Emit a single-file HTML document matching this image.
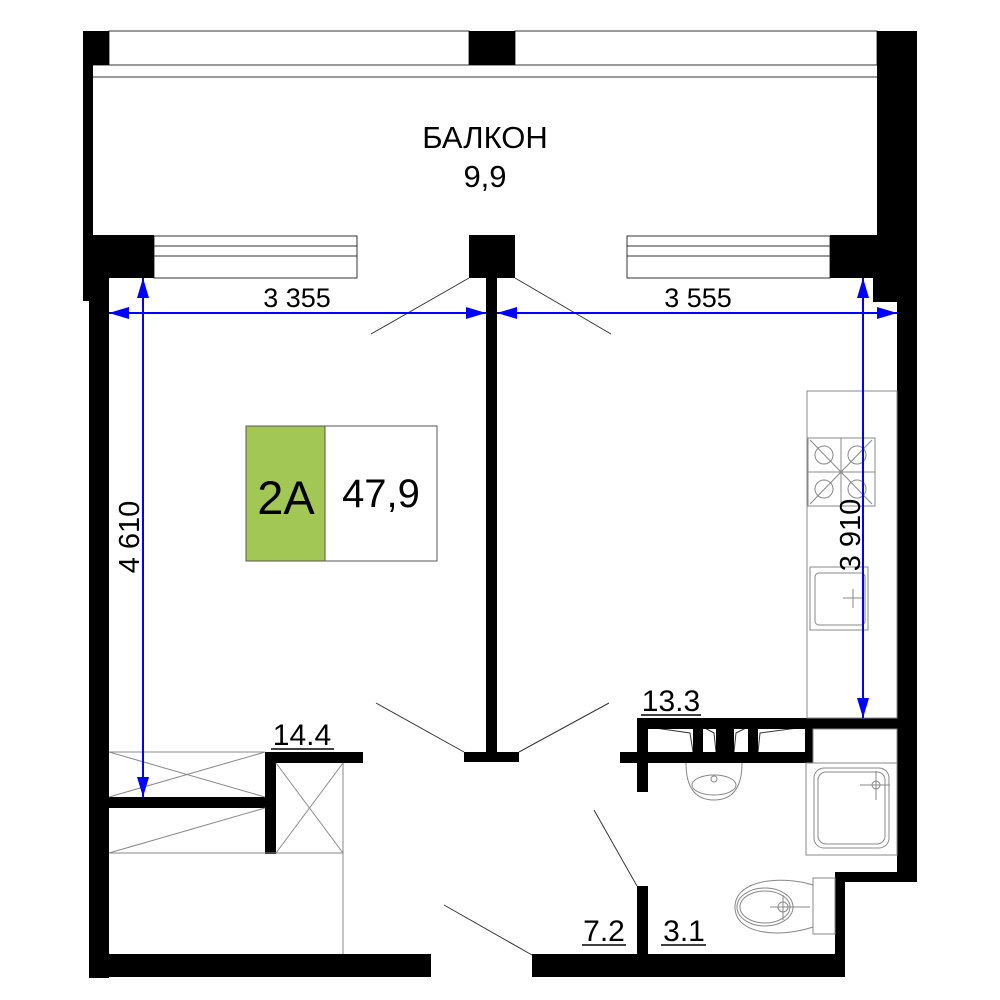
<!DOCTYPE html><html><head><style>body{margin:0;background:#fff}svg{display:block}text{font-family:"Liberation Sans",sans-serif}</style></head><body>
<svg width="1000" height="1000" viewBox="0 0 1000 1000" xmlns="http://www.w3.org/2000/svg">
<defs><marker id="b" viewBox="0 0 20 12" refX="20" refY="6" markerWidth="20" markerHeight="12" markerUnits="userSpaceOnUse" orient="auto-start-reverse"><path d="M0,0L20,6L0,12z" fill="#00f"/></marker></defs>
<g fill="none" stroke="#333" stroke-width="1">
<rect x="109" y="31" width="360" height="34"/><rect x="515" y="31" width="362" height="34"/>
<line x1="93" y1="65" x2="877" y2="65"/><line x1="93" y1="77" x2="877" y2="77"/>
<rect x="154" y="236" width="203" height="42"/><line x1="154" y1="246" x2="357" y2="246"/><line x1="154" y1="256" x2="357" y2="256"/>
<rect x="627" y="236" width="203" height="42"/><line x1="627" y1="246" x2="830" y2="246"/><line x1="627" y1="256" x2="830" y2="256"/>
<line x1="469" y1="278" x2="371" y2="334"/><line x1="515" y1="278" x2="611" y2="334"/>
<line x1="376" y1="703" x2="464" y2="752"/><line x1="519" y1="752" x2="609" y2="703"/>
<line x1="594" y1="810" x2="637" y2="886"/><line x1="444" y1="905" x2="532" y2="955"/>
<path d="M648,727 L690,733 L693,752 M703,727 L714,733 L716,752 M734,752 L736,733 L748,727 M758,752 L760,733 L805,727"/>
</g>
<g fill="#000">
<rect x="83" y="31" width="26" height="34"/><rect x="83" y="31" width="10" height="270"/>
<rect x="469" y="31" width="46" height="34"/>
<rect x="877" y="31" width="40" height="270"/><rect x="830" y="235" width="87" height="43"/><rect x="873" y="278" width="44" height="24"/>
<rect x="83" y="235" width="71" height="43"/><rect x="89" y="278" width="20" height="700"/>
<rect x="89" y="954" width="342" height="23"/>
<rect x="469" y="235" width="46" height="43"/><rect x="486" y="278" width="11" height="480"/><rect x="464" y="752" width="55" height="10"/>
<rect x="532" y="954" width="313" height="23"/><rect x="835" y="872" width="10" height="105"/><rect x="835" y="872" width="82" height="10"/>
<rect x="897" y="300" width="20" height="582"/><rect x="637" y="886" width="11" height="69"/>
<rect x="637" y="718" width="260" height="11"/><rect x="620" y="752" width="193" height="11"/><rect x="637" y="718" width="11" height="74"/>
<rect x="693" y="718" width="10" height="45"/><rect x="716" y="718" width="18" height="45"/><rect x="748" y="718" width="10" height="45"/><rect x="805" y="718" width="8" height="45"/>
<rect x="109" y="797" width="156" height="11"/><rect x="265" y="752" width="11" height="102"/><rect x="265" y="752" width="98" height="11"/>
</g>
<g fill="none" stroke="#888" stroke-width="1">
<line x1="109" y1="752" x2="265" y2="752"/><line x1="109" y1="752" x2="265" y2="797"/><line x1="109" y1="797" x2="265" y2="752"/><line x1="109" y1="853" x2="265" y2="808"/>
<line x1="109" y1="853" x2="343" y2="853"/><line x1="343" y1="763" x2="343" y2="954"/>
<line x1="276" y1="763" x2="343" y2="853"/><line x1="343" y1="763" x2="276" y2="853"/>
<rect x="807" y="391" width="90" height="327"/>
<rect x="808" y="438" width="67" height="68"/><line x1="841" y1="438" x2="841" y2="506"/><line x1="808" y1="472" x2="875" y2="472"/>
<circle cx="824" cy="455" r="9"/><circle cx="857" cy="455" r="9"/><circle cx="824" cy="489" r="9"/><circle cx="857" cy="489" r="9"/>
<line x1="810" y1="440" x2="872" y2="504"/><line x1="872" y1="440" x2="810" y2="504"/>
<rect x="810" y="567" width="58" height="63"/><rect x="815" y="573" width="50" height="52" rx="4"/>
<line x1="843" y1="598" x2="863" y2="598"/><line x1="853" y1="589" x2="853" y2="608"/>
<rect x="813" y="729" width="84" height="34"/><rect x="806" y="763" width="91" height="92"/>
<rect x="814" y="768" width="75" height="80" rx="10"/><rect x="818" y="772" width="67" height="72" rx="8"/>
<line x1="860" y1="785" x2="890" y2="785"/><line x1="876" y1="771" x2="876" y2="800"/><circle cx="876" cy="785" r="4"/>
<path d="M686,763 Q686,800 714,800 Q742,800 742,763"/><ellipse cx="714" cy="785" rx="22" ry="10"/><circle cx="714" cy="779" r="3"/>
<rect x="813" y="878" width="22" height="56"/><path d="M813,885 C780,875 735,880 735,907 C735,935 780,938 813,927"/><ellipse cx="765" cy="907" rx="28" ry="19"/><ellipse cx="765" cy="907" rx="25" ry="16"/>
<line x1="770" y1="907" x2="810" y2="907"/><line x1="783" y1="895" x2="783" y2="920"/><circle cx="783" cy="907" r="5"/>
</g>
<g stroke="#00f" stroke-width="2" fill="none">
<line x1="109" y1="313" x2="486" y2="313" marker-start="url(#b)" marker-end="url(#b)"/>
<line x1="497" y1="313" x2="897" y2="313" marker-start="url(#b)" marker-end="url(#b)"/>
<line x1="143" y1="278" x2="143" y2="797" marker-start="url(#b)" marker-end="url(#b)"/>
<line x1="863" y1="278" x2="863" y2="718" marker-start="url(#b)" marker-end="url(#b)"/>
</g>
<g font-size="27" fill="#000">
<text x="297" y="307" text-anchor="middle">3 355</text>
<text x="698" y="307" text-anchor="middle">3 555</text>
<text transform="translate(139,537) rotate(-90)" text-anchor="middle" font-size="29">4 610</text>
<text transform="translate(860,535) rotate(-90)" text-anchor="middle" font-size="29">3 910</text>
<text x="485" y="148" text-anchor="middle" font-size="31">БАЛКОН</text>
<text x="485" y="187" text-anchor="middle" font-size="31">9,9</text>
<text x="302" y="745" text-anchor="middle" font-size="30">14.4</text>
<text x="671" y="711" text-anchor="middle" font-size="30">13.3</text>
<text x="604" y="941" text-anchor="middle" font-size="30">7.2</text>
<text x="684" y="941" text-anchor="middle" font-size="30">3.1</text>
</g>
<g stroke="#000" stroke-width="1.5"><line x1="271" y1="749" x2="334" y2="749"/><line x1="641" y1="715" x2="701" y2="715"/><line x1="582" y1="945" x2="626" y2="945"/><line x1="661" y1="945" x2="706" y2="945"/></g>
<rect x="246" y="426" width="79" height="135" fill="#a2c754" stroke="#555"/>
<rect x="325" y="426" width="112" height="135" fill="#fff" stroke="#555"/>
<text x="286" y="514" text-anchor="middle" font-size="47">2A</text>
<text x="381" y="507" text-anchor="middle" font-size="40">47,9</text>
</svg></body></html>
